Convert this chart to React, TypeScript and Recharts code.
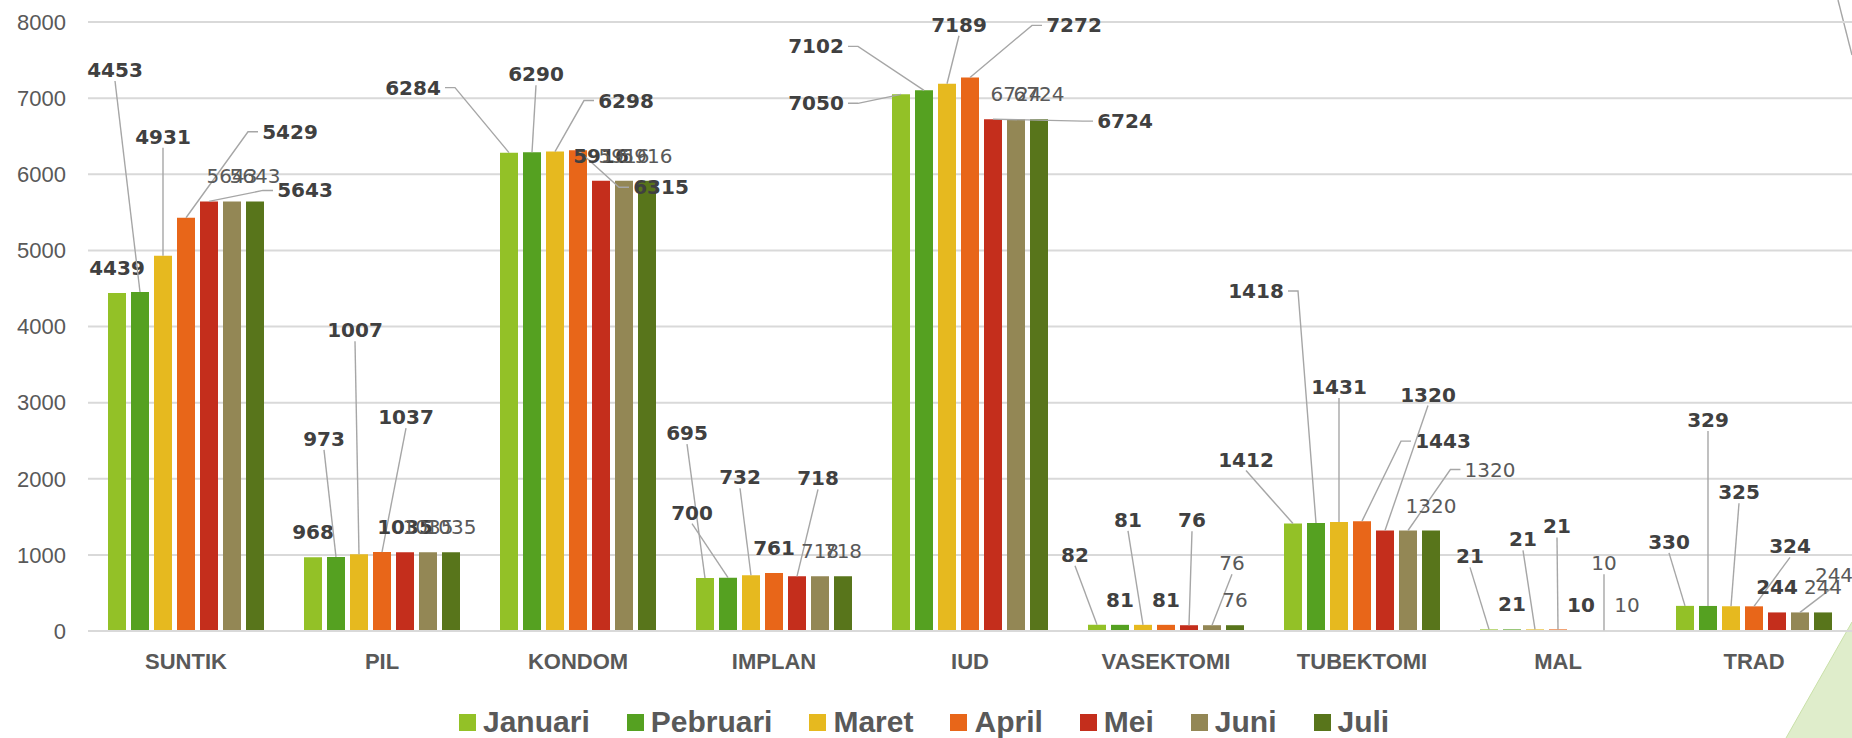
import React from 'react';
import {
  BarChart,
  Bar,
  XAxis,
  YAxis,
  CartesianGrid,
  Legend,
  LabelList,
} from 'recharts';

// contraceptive users per method, Jan - Jul
const CATEGORIES = ['SUNTIK', 'PIL', 'KONDOM', 'IMPLAN', 'IUD', 'VASEKTOMI', 'TUBEKTOMI', 'MAL', 'TRAD'];
const JANUARI = [4439, 968, 6284, 695, 7050, 82, 1412, 21, 330];
const PEBRUARI = [4453, 973, 6290, 700, 7102, 81, 1418, 21, 329];
const MARET = [4931, 1007, 6298, 732, 7189, 81, 1431, 21, 325];
const APRIL = [5429, 1037, 6315, 761, 7272, 81, 1443, 21, 324];
const MEI = [5643, 1035, 5916, 718, 6724, 76, 1320, 10, 244];
const JUNI = [5643, 1035, 5916, 718, 6724, 76, 1320, 10, 244];
const JULI = [5643, 1035, 5916, 718, 6724, 76, 1320, 10, 244];
const Y_TICKS = [0, 1000, 2000, 3000, 4000, 5000, 6000, 7000, 8000];

const SERIES = [
  { key: 'Januari', values: JANUARI, color: '#93C127' },
  { key: 'Pebruari', values: PEBRUARI, color: '#55A121' },
  { key: 'Maret', values: MARET, color: '#E6B91F' },
  { key: 'April', values: APRIL, color: '#E86619' },
  { key: 'Mei', values: MEI, color: '#C42E1C' },
  { key: 'Juni', values: JUNI, color: '#938755' },
  { key: 'Juli', values: JULI, color: '#58751B' },
];

// data labels that were dragged away from their bar in the original (px, relative to bar top)
type Nudge = [number, number] | null;
const LABEL_NUDGE: Nudge[][] = [
  [null, null, [-96, -65], [-18, -145], [-85, 9], [-22, -70], [-47, -64], [-19, -73], [-16, -64]],
  [[-25, -222], [-12, -118], [4, -78], [-36, -65], [-108, -44], null, [-60, -232], null, [0, -186]],
  [[0, -119], [-4, -224], [71, -51], [-11, -98], [12, -59], [-15, -105], [0, -135], [-12, -90], [8, -114]],
  [[104, -86], [24, -135], [83, 37], null, [104, -52], null, [81, -80], [-1, -103], [36, -60]],
  [[96, -11], null, null, [21, -98], [132, 2], [3, -105], [43, -136], null, null],
  [null, null, null, null, null, [20, -62], [82, -61], [0, -67], [34, -37]],
  [null, null, null, null, null, null, null, null, null],
];

const data = CATEGORIES.map((name, i) => {
  const row: Record<string, any> = { name };
  SERIES.forEach(s => { row[s.key] = s.values[i]; });
  return row;
});

const makeLabel = (s: number) => (props: any) => {
  const vb = props.viewBox || {};
  const x = Number(props.x ?? vb.x);
  const y = Number(props.y ?? vb.y);
  const width = Number(props.width ?? vb.width);
  const index = props.index;
  const text = String(props.value);
  const cx = x + width / 2;
  const top = y;
  const bold = s < 5;
  const halfW = text.length * (bold ? 7 : 6.4);
  const nudge = LABEL_NUDGE[s][index];
  const style = {
    fontFamily: '"DejaVu Sans", sans-serif',
    fontSize: 20,
    fontWeight: bold ? 700 : 400,
    fill: bold ? '#404040' : '#595959',
  } as React.CSSProperties;
  if (!nudge) {
    return (
      <text x={cx} y={top - 25 + 7} textAnchor="middle" style={style}>{text}</text>
    );
  }
  const [dx, dy] = nudge;
  const lx = cx + dx;
  const ly = top + dy;
  let path: string;
  if (Math.abs(dx) > halfW + 20) {
    const side = dx > 0 ? -1 : 1;
    const sx = lx + side * (halfW + 4);
    const hx = sx + side * 10;
    path = `M${sx},${ly} L${hx},${ly} L${cx},${top}`;
  } else {
    path = `M${lx},${ly + 11} L${cx},${top}`;
  }
  return (
    <g>
      <path d={path} fill="none" stroke="#A6A6A6" strokeWidth={1.4} />
      <text x={lx} y={ly + 7} textAnchor="middle" style={style}>{text}</text>
    </g>
  );
};

const LegendContent = () => (
  <div style={{ display: 'flex', alignItems: 'center', height: 32, paddingLeft: 459, gap: 37 }}>
    {SERIES.map(s => (
      <div key={s.key} style={{ display: 'flex', alignItems: 'center' }}>
        <span style={{ display: 'inline-block', width: 17, height: 17, background: s.color, marginRight: 7 }} />
        <span style={{ fontFamily: '"Liberation Sans", Arial, sans-serif', fontWeight: 700, fontSize: 30, lineHeight: '32px', color: '#595959' }}>
          {s.key}
        </span>
      </div>
    ))}
  </div>
);

export default function App() {
  return (
    <div style={{ position: 'relative', width: 1852, height: 738, background: '#fff', overflow: 'hidden' }}>
      <style>{'body{margin:0}'}</style>
      <svg width={1852} height={738} style={{ position: 'absolute', left: 0, top: 0 }}>
        <polygon points="1786,738 1852,622 1852,738" fill="#DFEDCB" />
        <line x1={1786} y1={738} x2={1852} y2={622} stroke="#C9E0A8" strokeWidth={1} />
        <line x1={1838} y1={0} x2={1852} y2={55} stroke="#A6A6A6" strokeWidth={1.4} />
      </svg>
      <div style={{ position: 'absolute', left: 0, top: 0 }}>
        <BarChart
          width={1852}
          height={738}
          data={data}
          margin={{ top: 22, right: 0, left: 0, bottom: 0 }}
          barCategoryGap={20}
          barGap={5}
        >
          <CartesianGrid vertical={false} stroke="#D9D9D9" strokeWidth={2} />
          <XAxis
            dataKey="name"
            interval={0}
            height={75}
            tickLine={false}
            tickSize={0}
            tickMargin={22}
            axisLine={{ stroke: '#D9D9D9', strokeWidth: 2 }}
            tick={{ fill: '#595959', fontSize: 22, fontWeight: 700, fontFamily: '"Liberation Sans", Arial, sans-serif' }}
          />
          <YAxis
            domain={[0, 8000]}
            ticks={Y_TICKS}
            width={88}
            axisLine={false}
            tickLine={false}
            tickSize={0}
            tickMargin={22}
            tick={{ fill: '#595959', fontSize: 22, fontFamily: '"Liberation Sans", Arial, sans-serif' }}
          />
          <Legend verticalAlign="bottom" wrapperStyle={{ height: 32 }} content={<LegendContent />} />
          {SERIES.map((s, i) => (
            <Bar key={s.key} dataKey={s.key} fill={s.color} isAnimationActive={false}>
              <LabelList dataKey={s.key} content={makeLabel(i)} />
            </Bar>
          ))}
        </BarChart>
      </div>
    </div>
  );
}
